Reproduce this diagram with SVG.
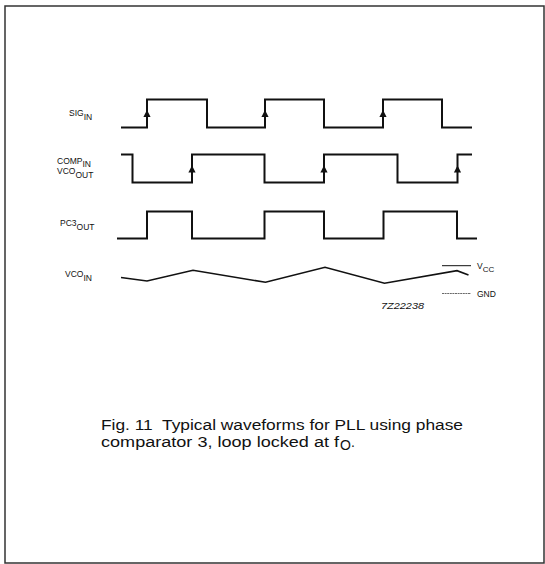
<svg xmlns="http://www.w3.org/2000/svg" width="545" height="564" viewBox="0 0 545 564">
<style>
.wave{fill:none;stroke:#111;stroke-width:2;stroke-linejoin:miter}
.ramp{fill:none;stroke:#111;stroke-width:1.6}
.lbl{font-family:"Liberation Sans",Arial,sans-serif;font-size:8.5px;fill:#111}
.cap{font-family:"Liberation Sans",Arial,sans-serif;font-size:14px;fill:#111}
.arr{fill:#111}
</style>
<defs>
<path id="up" d="M0,0 L3.6,7 L-3.6,7 Z"/>
</defs>
<rect x="5" y="6" width="539" height="557" fill="none" stroke="#333" stroke-width="1.5"/>

<g id="sig-in">
<text class="lbl" x="69" y="116">SIG<tspan dy="3.5">IN</tspan></text>
<polyline class="wave" points="121,127.5 147,127.5 147,99.5 207,99.5 207,127.5 265,127.5 265,99.5 324,99.5 324,127.5 383,127.5 383,99.5 442,99.5 442,127.5 472,127.5"/>
<use href="#up" class="arr" x="147" y="110"/>
<use href="#up" class="arr" x="265" y="110"/>
<use href="#up" class="arr" x="383" y="110"/>
</g>

<g id="comp-in-vco-out">
<text class="lbl" x="57" y="163.5">COMP<tspan dy="3.5">IN</tspan></text>
<text class="lbl" x="57" y="174">VCO<tspan dy="3.5">OUT</tspan></text>
<polyline class="wave" points="121,154.5 132.5,154.5 132.5,182.5 192,182.5 192,154.5 264.5,154.5 264.5,182.5 324,182.5 324,154.5 397.5,154.5 397.5,182.5 457.5,182.5 457.5,154.5 472,154.5"/>
<use href="#up" class="arr" x="192" y="165.5"/>
<use href="#up" class="arr" x="324" y="165.5"/>
<use href="#up" class="arr" x="457.5" y="165.5"/>
</g>

<g id="pc3-out">
<text class="lbl" x="60" y="226">PC3<tspan dy="3.5">OUT</tspan></text>
<polyline class="wave" points="117,238.5 147,238.5 147,211.5 192,211.5 192,238.5 264.5,238.5 264.5,211.5 324,211.5 324,238.5 383.5,238.5 383.5,211.5 457,211.5 457,238.5 477,238.5"/>
</g>

<g id="vco-in">
<text class="lbl" x="65" y="277">VCO<tspan dy="4">IN</tspan></text>
<polyline class="ramp" points="121,277.5 147,281 193,270.3 265.5,282.3 325,267.3 384.5,283.3 457,270.7 468.5,275"/>
</g>

<g id="levels">
<line x1="442" y1="265.7" x2="471" y2="265.7" stroke="#111" stroke-width="1"/>
<text class="lbl" x="477" y="268.5">V<tspan dy="3" font-size="8">CC</tspan></text>
<line x1="442" y1="293.5" x2="471" y2="293.5" stroke="#444" stroke-width="0.8" stroke-dasharray="2,0.6"/>
<text class="lbl" x="477" y="297">GND</text>
<text class="lbl" x="381" y="308.5" font-style="italic" textLength="43" lengthAdjust="spacingAndGlyphs">7Z22238</text>
</g>

<g id="caption">
<text class="cap" x="101" y="429.5" textLength="362" lengthAdjust="spacingAndGlyphs">Fig. 11&#160; Typical waveforms for PLL using phase</text>
<text class="cap" x="101" y="446.5" textLength="238" lengthAdjust="spacingAndGlyphs">comparator 3, loop locked at f</text>
<text class="cap" x="340" y="449.5" font-size="10">O</text>
<text class="cap" x="351" y="446.5">.</text>
</g>
</svg>
